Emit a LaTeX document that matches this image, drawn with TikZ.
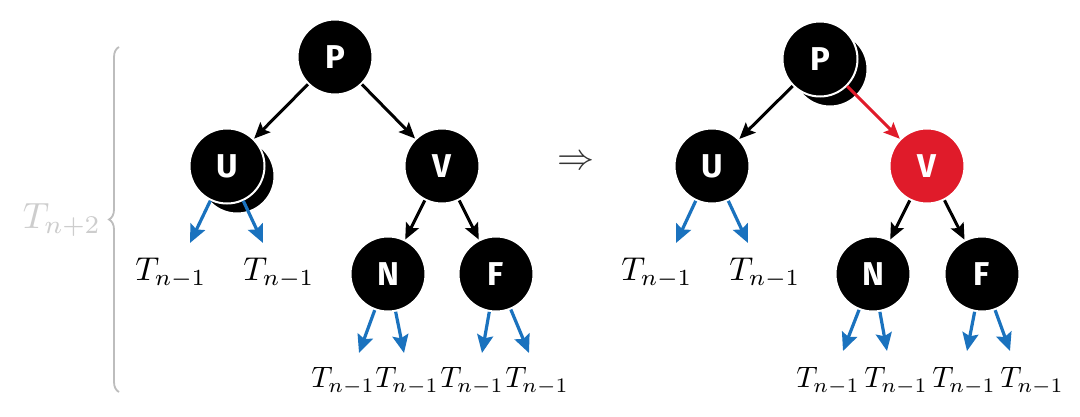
\documentclass[tikz,border=0pt]{standalone}
\usepackage{fontspec}
\newfontfamily\nodefont{Fira Sans}
\usetikzlibrary{arrows.meta,decorations.pathreplacing}
\definecolor{rbred}{HTML}{E01B2A}
\definecolor{tblue}{HTML}{1A72BE}
\definecolor{braceg}{HTML}{BDBDBD}
\definecolor{tgray}{HTML}{CDCDCD}
\begin{document}
\begin{tikzpicture}[x=1pt,y=-1pt,
  rb/.style={circle,fill=black,draw=white,line width=2pt,minimum size=75pt,inner sep=0pt,
    text=white,font=\nodefont\bfseries\fontsize{33}{36}\selectfont},
  rr/.style={rb,fill=rbred},
  shadowc/.style={circle,fill=black,draw=white,line width=2pt,minimum size=75pt,inner sep=0pt},
  edge/.style={line width=3pt,-{Stealth[length=16pt,width=14pt,inset=3pt]}},
  redge/.style={edge,draw=rbred},
  bedge/.style={line width=3.2pt,draw=tblue,-{Stealth[length=18pt,width=16pt,inset=3pt]}},
  labu/.style={scale=3.3,inner sep=0pt},
  labd/.style={scale=2.95,inner sep=0pt}]
\useasboundingbox (0,0) rectangle (1080,417);
\fill[white] (0,0) rectangle (1080,417);

% brace and T_{n+2}
\coordinate (bb) at (119,392);
\coordinate (bt) at (119,47);
\draw[braceg,line width=1.8pt,decorate,decoration={brace,amplitude=10pt}] (bb) -- (bt);
\node[scale=3.65,inner sep=0pt,text=tgray] (Tn2) at (62,220) {$T_{n+2}$};

% ---------- left tree ----------
\node[shadowc] (LUs) at (237,176) {};
\node[rb] (LP) at (335,57) {P};
\node[rb] (LU) at (227,166) {U};
\node[rb] (LV) at (442,166) {V};
\node[rb] (LN) at (388,274) {N};
\node[rb] (LF) at (496,274) {F};

\draw[edge] (LP) -- (LU);
\draw[edge] (LP) -- (LV);
\draw[edge] (LV) -- (LN);
\draw[edge] (LV) -- (LF);

\coordinate (lu1) at (190,243);
\coordinate (lu2) at (263,243);
\coordinate (ln1) at (359,353);
\coordinate (ln2) at (404,353);
\coordinate (lf1) at (482,353);
\coordinate (lf2) at (529,353);
\draw[bedge] (LU) -- (lu1);
\draw[bedge] (LU) -- (lu2);
\draw[bedge] (LN) -- (ln1);
\draw[bedge] (LN) -- (ln2);
\draw[bedge] (LF) -- (lf1);
\draw[bedge] (LF) -- (lf2);

\node[labu] (lt1) at (171,273) {$T_{n-1}$};
\node[labu] (lt2) at (279,273) {$T_{n-1}$};
\node[labd] (lt3) at (343,381) {$T_{n-1}$};
\node[labd] (lt4) at (407,381) {$T_{n-1}$};
\node[labd] (lt5) at (472,381) {$T_{n-1}$};
\node[labd] (lt6) at (537,381) {$T_{n-1}$};

% implies
\node[scale=3.7,inner sep=0pt,text=black!80] (imp) at (576,163) {$\Rightarrow$};

% ---------- right tree ----------
\node[shadowc] (RPs) at (830,69) {};
\node[rb] (RP) at (820,59) {P};
\node[rb] (RU) at (712,166) {U};
\node[rr] (RV) at (927,166) {V};
\node[rb] (RN) at (873,274) {N};
\node[rb] (RF) at (982,274) {F};

\draw[edge] (RP) -- (RU);
\draw[redge] (RP) -- (RV);
\draw[edge] (RV) -- (RN);
\draw[edge] (RV) -- (RF);

\coordinate (ru1) at (676,243);
\coordinate (ru2) at (748,243);
\coordinate (rn1) at (843,351);
\coordinate (rn2) at (887,351);
\coordinate (rf1) at (967,351);
\coordinate (rf2) at (1010,351);
\draw[bedge] (RU) -- (ru1);
\draw[bedge] (RU) -- (ru2);
\draw[bedge] (RN) -- (rn1);
\draw[bedge] (RN) -- (rn2);
\draw[bedge] (RF) -- (rf1);
\draw[bedge] (RF) -- (rf2);

\node[labu] (rt1) at (657,273) {$T_{n-1}$};
\node[labu] (rt2) at (765,273) {$T_{n-1}$};
\node[labd] (rt3) at (828,381) {$T_{n-1}$};
\node[labd] (rt4) at (896,381) {$T_{n-1}$};
\node[labd] (rt5) at (964,381) {$T_{n-1}$};
\node[labd] (rt6) at (1032,381) {$T_{n-1}$};
\end{tikzpicture}
\end{document}
